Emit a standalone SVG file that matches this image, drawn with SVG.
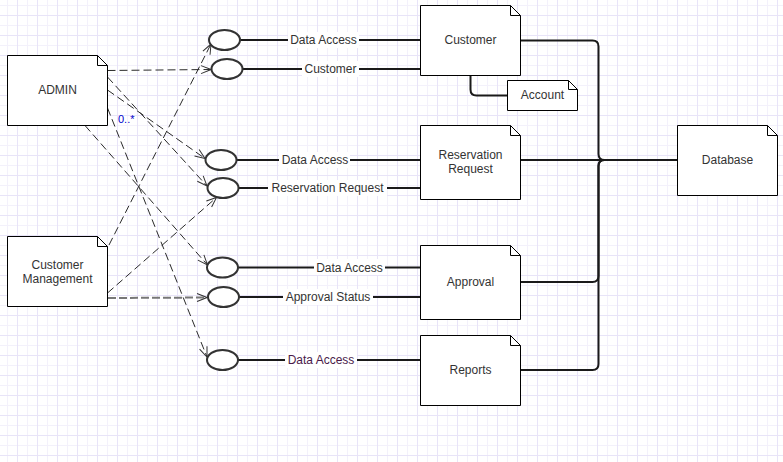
<svg xmlns="http://www.w3.org/2000/svg" width="783" height="462" viewBox="0 0 783 462">
  <defs>
    <pattern id="grid" x="17" y="15" width="20" height="20" patternUnits="userSpaceOnUse">
      <path d="M10.5,0 V20 M0,10.5 H20" stroke="#f3f1fb" stroke-width="1" fill="none"/>
      <path d="M0.5,0 V20 M0,0.5 H20" stroke="#e8e4f8" stroke-width="1" fill="none"/>
    </pattern>
    <marker id="open" markerUnits="userSpaceOnUse" markerWidth="12" markerHeight="10" viewBox="0 0 12 10" refX="11" refY="5" orient="auto">
      <path d="M1,1 L11,5 L1,9" fill="none" stroke="#333" stroke-width="1" stroke-dasharray="none"/>
    </marker>
  </defs>
  <style>
    .node { fill: #fff; stroke: #000; stroke-width: 1; }
    .fold { fill: none; stroke: #000; stroke-width: 1; }
    .txt { font-family: "Liberation Sans", Arial, sans-serif; font-size: 12px; fill: #333; text-anchor: middle; }
    .solid { fill: none; stroke: #1a1a1a; stroke-width: 2; }
    .dash { fill: none; stroke: #2a2a2a; stroke-width: 1; stroke-dasharray: 8 4; marker-end: url(#open); }
    .dashthick { fill: none; stroke: #777; stroke-width: 2; stroke-dasharray: 8 3; marker-end: url(#open); }
    .ell { fill: #fff; stroke: #333; stroke-width: 2; }
    .lblbg { fill: #fff; }
  </style>
  <rect width="783" height="462" fill="#fff"/>
  <rect width="783" height="462" fill="url(#grid)"/>

  <g id="connectors">
    <!-- solid links from interfaces to components -->
    <path class="solid" d="M240,40 H420.5"/>
    <path class="solid" d="M242.5,69 H420.5"/>
    <path class="solid" d="M236.5,160 H420.5"/>
    <path class="solid" d="M238.5,188 H420.5"/>
    <path class="solid" d="M238,267.5 H420.5"/>
    <path class="solid" d="M239,297 H420.5"/>
    <path class="solid" d="M238,360 H420.5"/>
    <!-- Customer to Account -->
    <path class="solid" d="M470.5,75.5 V89.5 Q470.5,95.5 476.5,95.5 H507.5"/>
    <!-- components to Database -->
    <path class="solid" d="M520.5,40.5 H592.5 Q598.5,40.5 598.5,46.5 V154 Q598.5,160 604.5,160 H677.5"/>
    <path class="solid" d="M520.5,160 H677.5"/>
    <path class="solid" d="M520.5,282 H592.5 Q598.5,282 598.5,276 V166 Q598.5,160 604.5,160 H677.5"/>
    <path class="solid" d="M520.5,370 H592.5 Q598.5,370 598.5,364 V166 Q598.5,160 604.5,160 H677.5"/>
    <!-- dashed dependencies -->
    <path class="dash" d="M107.5,70.5 L211,69.5"/>
    <path class="dash" d="M107.5,90 L205,158.5"/>
    <path class="dash" d="M107.5,77 L207,186"/>
    <path class="dash" d="M85,125.5 L207.5,265"/>
    <path class="dash" d="M107.5,108 L207,357"/>
    <path class="dash" d="M109,245 L211,44"/>
    <path class="dash" d="M107.5,293 L216.5,197.5"/>
    <path class="dashthick" d="M108,298 L207,297.5"/>
    <text x="118" y="123" style="font-family:'Liberation Sans',Arial,sans-serif;font-size:11px;fill:#0000cc">0..*</text>
    <!-- labels -->
    <rect class="lblbg" x="288" y="32" width="71" height="16"/>
    <text class="txt" x="323.5" y="44">Data Access</text>
    <rect class="lblbg" x="302" y="61" width="57" height="16"/>
    <text class="txt" x="330.5" y="73">Customer</text>
    <rect class="lblbg" x="279" y="152" width="71" height="16"/>
    <text class="txt" x="315" y="164">Data Access</text>
    <rect class="lblbg" x="268" y="180" width="119" height="16"/>
    <text class="txt" x="327.5" y="192">Reservation Request</text>
    <rect class="lblbg" x="314" y="259" width="71" height="16"/>
    <text class="txt" x="349.5" y="271.5">Data Access</text>
    <rect class="lblbg" x="283" y="289" width="90" height="16"/>
    <text class="txt" x="328" y="301">Approval Status</text>
    <rect class="lblbg" x="285" y="352" width="72" height="16"/>
    <text class="txt" x="321" y="364" style="fill:#4a1a4a">Data Access</text>
  </g>

  <g id="interfaces">
    <ellipse id="i1" class="ell" cx="224.5" cy="40" rx="15.5" ry="10"/>
    <ellipse id="i2" class="ell" cx="227" cy="69" rx="15.5" ry="10"/>
    <ellipse id="i3" class="ell" cx="221" cy="160" rx="15.5" ry="10"/>
    <ellipse id="i4" class="ell" cx="223" cy="188" rx="15.5" ry="10"/>
    <ellipse id="i5" class="ell" cx="222.5" cy="267.5" rx="15.5" ry="10"/>
    <ellipse id="i6" class="ell" cx="223.5" cy="297" rx="15.5" ry="10"/>
    <ellipse id="i7" class="ell" cx="222.5" cy="360" rx="15.5" ry="10"/>
  </g>

  <g id="admin">
    <path class="node" d="M7.5,55.5 H97.5 L107.5,65.5 V125.5 H7.5 Z"/>
    <path class="fold" d="M97.5,55.5 V65.5 H107.5"/>
    <text class="txt" x="57.5" y="94">ADMIN</text>
  </g>
  <g id="customer-management">
    <path class="node" d="M7.5,236.5 H97.5 L107.5,246.5 V306.5 H7.5 Z"/>
    <path class="fold" d="M97.5,236.5 V246.5 H107.5"/>
    <text class="txt" x="57.5" y="269">Customer</text>
    <text class="txt" x="57.5" y="283">Management</text>
  </g>
  <g id="customer">
    <path class="node" d="M420.5,5.5 H510.5 L520.5,15.5 V75.5 H420.5 Z"/>
    <path class="fold" d="M510.5,5.5 V15.5 H520.5"/>
    <text class="txt" x="470.5" y="44">Customer</text>
  </g>
  <g id="account">
    <path class="node" d="M507.5,80.5 H568.5 L577.5,89.5 V110.5 H507.5 Z"/>
    <path class="fold" d="M568.5,80.5 V89.5 H577.5"/>
    <text class="txt" x="542.5" y="99">Account</text>
  </g>
  <g id="reservation-request">
    <path class="node" d="M420.5,125.5 H510.5 L520.5,135.5 V199.5 H420.5 Z"/>
    <path class="fold" d="M510.5,125.5 V135.5 H520.5"/>
    <text class="txt" x="470.5" y="159">Reservation</text>
    <text class="txt" x="470.5" y="173">Request</text>
  </g>
  <g id="database">
    <path class="node" d="M677.5,125.5 H767.5 L777.5,135.5 V195.5 H677.5 Z"/>
    <path class="fold" d="M767.5,125.5 V135.5 H777.5"/>
    <text class="txt" x="727.5" y="164">Database</text>
  </g>
  <g id="approval">
    <path class="node" d="M420.5,245.5 H510.5 L520.5,255.5 V319.5 H420.5 Z"/>
    <path class="fold" d="M510.5,245.5 V255.5 H520.5"/>
    <text class="txt" x="470.5" y="286">Approval</text>
  </g>
  <g id="reports">
    <path class="node" d="M420.5,335.5 H510.5 L520.5,345.5 V405.5 H420.5 Z"/>
    <path class="fold" d="M510.5,335.5 V345.5 H520.5"/>
    <text class="txt" x="470.5" y="374">Reports</text>
  </g>
</svg>
